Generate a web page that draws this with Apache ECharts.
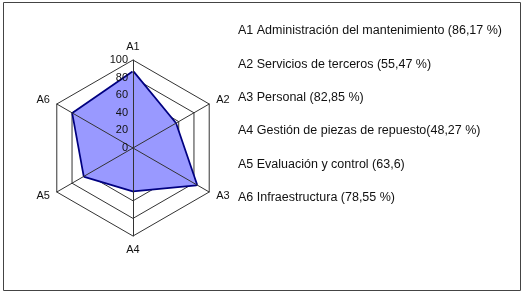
<!DOCTYPE html>
<html>
<head>
<meta charset="utf-8">
<script src="https://cdn.jsdelivr.net/npm/echarts@6/dist/echarts.min.js"></script>
<style>
  html, body { margin: 0; padding: 0; background: #fff; }
  #chart { width: 531px; height: 296px; }
</style>
</head>
<body>
<div id="chart"></div>
<script>
  // ejes del radar
  var axes = ['A1', 'A2', 'A3', 'A4', 'A5', 'A6'];
  var values = [86.17, 55.47, 82.85, 48.27, 63.6, 78.55];
  var axisMax = 100;
  // leyenda de texto a la derecha
  var descriptions = [
    'A1 Administración del mantenimiento (86,17 %)',
    'A2 Servicios de terceros (55,47 %)',
    'A3 Personal (82,85 %)',
    'A4 Gestión de piezas de repuesto(48,27 %)',
    'A5 Evaluación y control (63,6)',
    'A6 Infraestructura (78,55 %)'
  ];

  var chart = echarts.init(document.getElementById('chart'));

  // echarts dibuja el radar en sentido antihorario: A1 arriba y luego A6..A2
  var order = [0, 5, 4, 3, 2, 1];
  var center = [133, 148];
  var radius = 88;

  function makeIndicators(withLabel) {
    return order.map(function (k, i) {
      var ind = { name: axes[k], min: 0, max: axisMax };
      if (withLabel && i === 0) ind.axisLabel = { show: true }; // solo A1 lleva escala
      return ind;
    });
  }

  var baseRadar = {
    center: center,
    radius: radius,
    startAngle: 90,
    splitNumber: 5,
    shape: 'polygon',
    axisTick: { show: false },
    splitArea: { show: false }
  };

  chart.setOption({
    backgroundColor: '#fff',
    animation: false,
    title: {
      text: descriptions.join('\n'),
      left: 233,
      top: 9,
      textStyle: {
        fontFamily: 'Liberation Sans',
        fontSize: 12.5,
        fontWeight: 'normal',
        color: '#111',
        lineHeight: 33.4
      }
    },
    graphic: [{
      type: 'rect',
      shape: { x: 3.5, y: 2.5, width: 517, height: 288 },
      style: { fill: 'none', stroke: '#444', lineWidth: 1 },
      silent: true
    }],
    radar: [
      // anillos, por debajo del área
      Object.assign({}, baseRadar, {
        z: 1,
        indicator: makeIndicators(false),
        axisName: { show: false },
        axisLine: { show: false },
        axisLabel: { show: false },
        splitLine: { lineStyle: { color: '#333', width: 1 } }
      }),
      // ejes, nombres y escala, por encima del área
      Object.assign({}, baseRadar, {
        z: 5,
        indicator: makeIndicators(true),
        axisName: {
          color: '#111',
          fontFamily: 'Liberation Sans',
          fontSize: 11
        },
        nameGap: 8,
        axisLine: { lineStyle: { color: '#333', width: 1 } },
        splitLine: { show: false },
        axisLabel: {
          show: false,
          color: '#111',
          fontFamily: 'Liberation Sans',
          fontSize: 11,
          margin: 5
        }
      })
    ],
    series: [{
      type: 'radar',
      radarIndex: 0,
      z: 2,
      symbol: 'none',
      lineStyle: { color: '#000080', width: 3.5, join: 'round' },
      areaStyle: { color: '#9999ff', opacity: 1 },
      data: [{ value: order.map(function (k) { return values[k]; }) }]
    }]
  });
</script>
</body>
</html>
